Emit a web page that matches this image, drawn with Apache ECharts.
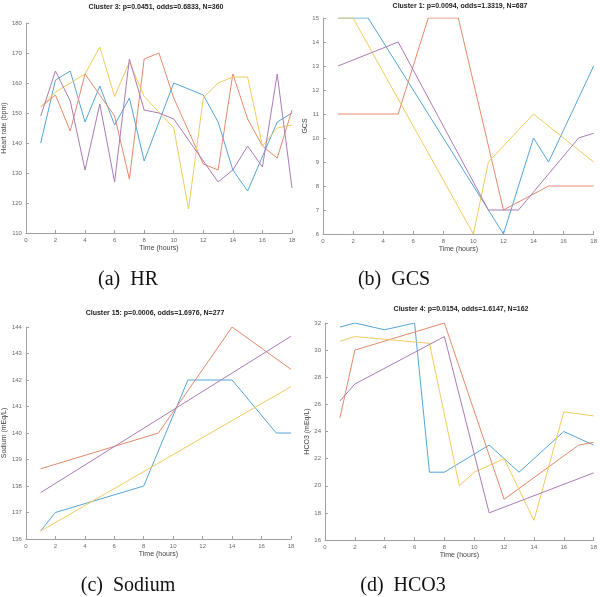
<!DOCTYPE html>
<html><head><meta charset="utf-8">
<script src="https://cdn.jsdelivr.net/npm/echarts@6/dist/echarts.min.js"></script>
<style>html,body{margin:0;padding:0;background:#fff}#c{width:600px;height:597px}</style>
</head><body><div id="c"></div><script>
// ---- data ----
const panelTitles = [
  'Cluster 3: p=0.0451, odds=0.6833, N=360',
  'Cluster 1: p=0.0094, odds=1.3319, N=687',
  'Cluster 15: p=0.0006, odds=1.6976, N=277',
  'Cluster 4: p=0.0154, odds=1.6147, N=162'
];
const captions = ['(a)\u2002HR', '(b)\u2002GCS', '(c)\u2002Sodium', '(d)\u2002HCO3'];
const xName = 'Time (hours)';
const yNames = ['Heart rate (bpm)', 'GCS', 'Sodium (mEq/L)', 'HCO3 (mEq/L)'];
const xTicks = [0, 18, 2];
const yTicks = [[110, 180, 10], [6, 15, 1], [136, 144, 1], [16, 32, 2]];

// HR (panel a)
const hrBlue   = [[1,140],[2,161],[3,164],[4,147],[5,159],[6,146],[7,155],[8,134],[10,160],[12,156],[13,147],[14,131],[15,124],[17,147],[18,150]];
const hrOrange = [[1,152],[2,156],[3,144],[4,163],[6,149],[7,128],[8,168],[9,170],[10,155],[12,133],[13,131],[14,163],[15,148],[16,139],[17,135],[18,151]];
const hrYellow = [[1,152],[2,157],[4,163],[5,172],[6,155.5],[7,167],[8,155.5],[10,145],[11,118],[12,155],[13,160],[14,162],[15,162],[16,139],[17,145],[18,146]];
const hrPurple = [[1,149],[2,164],[3,154],[4,131],[5,153],[6,127],[7,168],[8,151],[9,150],[10,148],[13,127],[14,131],[15,139],[16,132],[17,163],[18,125]];
// GCS (panel b)
const gcsBlue   = [[1,15],[3,15],[12,6],[14,10],[15,9],[18,13]];
const gcsOrange = [[1,11],[5,11],[7,15],[9,15],[12,7],[15,8],[18,8]];
const gcsYellow = [[1,15],[2,15],[10,6],[11,9],[14,11],[18,9]];
const gcsPurple = [[1,13],[5,14],[11,7],[13,7],[17,10],[18,10.2]];
// Sodium (panel c)
const naBlue   = [[1,136.3],[2,137],[8,138],[11,142],[14,142],[17,140],[18,140]];
const naOrange = [[1,138.65],[9,140],[14,144],[18,142.4]];
const naYellow = [[1,136.3],[18,141.75]];
const naPurple = [[1,137.75],[18,143.65]];
// HCO3 (panel d)
const hcoBlue   = [[1,31.7],[2,32],[4,31.5],[6,32],[7,21],[8,21],[11,23],[13,21],[16,24],[18,23]];
const hcoOrange = [[1,25],[2,30],[8,32],[12,19],[17,23],[18,23.2]];
const hcoYellow = [[1,30.65],[2,31],[7,30.5],[9,20],[10,21],[12,22],[14,17.45],[16,25.45],[18,25.15]];
const hcoPurple = [[1,26.25],[2,27.5],[8,31],[11,18],[18,20.95]];

const panelSeries = [
  [hrBlue, hrOrange, hrYellow, hrPurple],
  [gcsBlue, gcsOrange, gcsYellow, gcsPurple],
  [naBlue, naOrange, naYellow, naPurple],
  [hcoBlue, hcoOrange, hcoYellow, hcoPurple]
];

// ---- styles / layout ----
const colors = ['#55a4d6', '#e5896a', '#f3ca5e', '#a97bb5'];
const grids = [
  {left: 22, top: 23, width: 270, height: 210},
  {left: 323, top: 18, width: 273, height: 216},
  {left: 22, top: 327, width: 269, height: 212},
  {left: 325, top: 323, width: 272, height: 217}
];
const titlePos = [[156, 7], [460, 6], [155, 313], [461, 309]];
const captionPos = [[128, 280], [394, 280], [128, 586], [403, 586]];
const yNameGap = [14, 12, 14.5, 11.5];
const axisCol = '#a0a0a0', labCol = '#6a6a6a';

const option = {
  animation: false,
  grid: grids,
  xAxis: grids.map((g, i) => ({
    type: 'value', gridIndex: i, min: xTicks[0], max: xTicks[1], interval: xTicks[2],
    name: xName, nameLocation: 'middle', nameGap: 12,
    nameTextStyle: {fontFamily: 'Liberation Sans', fontSize: 7, color: '#444'},
    axisLine: {show: true, onZero: false, lineStyle: {color: axisCol, width: 1}},
    axisTick: {show: true, inside: true, length: 3, lineStyle: {color: axisCol}},
    axisLabel: {fontFamily: 'Liberation Sans', fontSize: 6, color: labCol, margin: 4},
    splitLine: {show: false}
  })),
  yAxis: grids.map((g, i) => ({
    type: 'value', gridIndex: i, min: yTicks[i][0], max: yTicks[i][1], interval: yTicks[i][2],
    name: yNames[i], nameLocation: 'middle', nameGap: yNameGap[i], nameRotate: 90,
    nameTextStyle: {fontFamily: 'Liberation Sans', fontSize: 7, color: '#444'},
    axisLine: {show: true, onZero: false, lineStyle: {color: axisCol, width: 1}},
    axisTick: {show: true, inside: true, length: 3, lineStyle: {color: axisCol}},
    axisLabel: {fontFamily: 'Liberation Sans', fontSize: 6, color: labCol, margin: 4},
    splitLine: {show: false}
  })),
  series: [],
  graphic: []
};
panelSeries.forEach((lines, i) => {
  lines.forEach((d, k) => {
    option.series.push({
      type: 'line', xAxisIndex: i, yAxisIndex: i, data: d,
      showSymbol: false, symbol: 'none',
      lineStyle: {color: colors[k], width: 1}, itemStyle: {color: colors[k]},
      z: 2 + k
    });
  });
  option.graphic.push({
    type: 'text', x: titlePos[i][0], y: titlePos[i][1],
    style: {text: panelTitles[i], align: 'center', verticalAlign: 'middle',
      font: 'bold 7px "Liberation Sans"', fill: '#222'}
  });
  option.graphic.push({
    type: 'text', x: captionPos[i][0], y: captionPos[i][1],
    style: {text: captions[i], align: 'center', verticalAlign: 'middle',
      font: '20px "Liberation Serif"', fill: '#111'}
  });
});
const chart = echarts.init(document.getElementById('c'), null, {renderer: 'canvas'});
chart.setOption(option);
</script></body></html>
